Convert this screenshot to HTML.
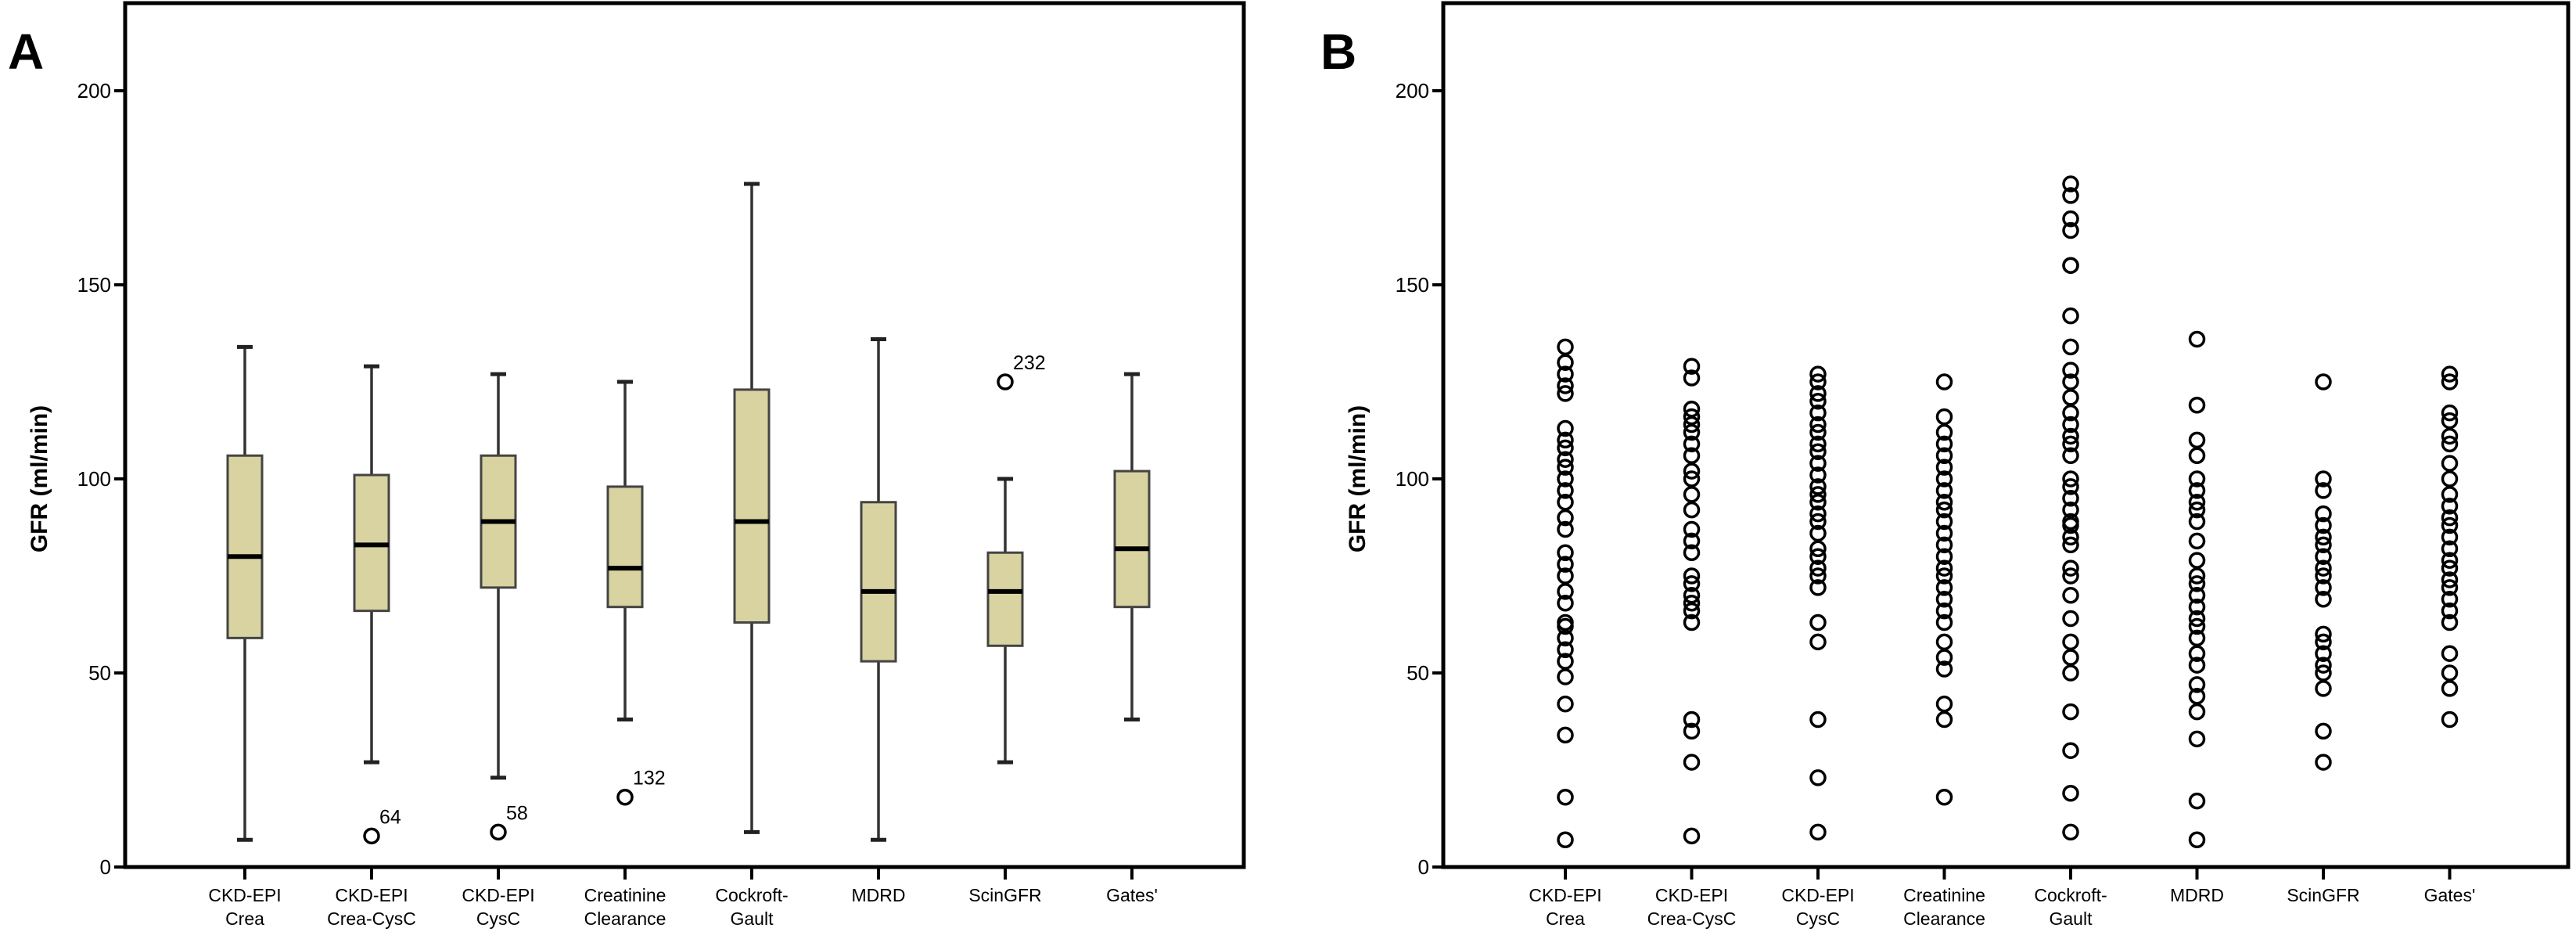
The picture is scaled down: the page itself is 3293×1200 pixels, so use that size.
<!DOCTYPE html>
<html><head><meta charset="utf-8"><style>
html,body{margin:0;padding:0;background:#fff;}
svg{display:block;font-family:"Liberation Sans",sans-serif;}
</style></head><body>
<svg id="fig" width="3293" height="1200" viewBox="0 0 3293 1200">
</svg>
<script>
const categories = [["CKD-EPI","Crea"],["CKD-EPI","Crea-CysC"],["CKD-EPI","CysC"],["Creatinine","Clearance"],["Cockroft-","Gault"],["MDRD",""],["ScinGFR",""],["Gates'",""]];
const yTicks = [0,50,100,150,200];
const whiskerHigh = [134,129,127,125,176,136,100,127];
const q3 = [106,101,106,98,123,94,81,102];
const medians = [80,83,89,77,89,71,71,82];
const q1 = [59,66,72,67,63,53,57,67];
const whiskerLow = [7,27,23,38,9,7,27,38];
const outlierCat = [1,2,3,6];
const outlierVal = [8,9,18,125];
const outlierLbl = ["64","58","132","232"];
const pts0 = [134,130,127,124,122,113,110,108,105,103,100,97,94,90,87,81,78,75,71,68,63,62,59,56,53,49,42,34,18,7];
const pts1 = [129,126,118,116,114,112,109,106,102,100,96,92,87,84,81,75,73,70,68,66,63,38,35,27,8];
const pts2 = [127,125,122,120,117,114,112,109,107,104,101,98,96,94,91,89,86,82,80,77,75,72,63,58,38,23,9];
const pts3 = [125,116,112,109,106,103,100,97,94,92,89,86,83,80,77,75,72,69,66,63,58,54,51,42,38,18];
const pts4 = [176,173,167,164,155,155,142,134,128,125,121,117,114,111,109,106,100,98,95,92,89,88,85,83,77,75,70,64,58,54,50,40,30,19,9];
const pts5 = [136,119,110,106,100,97,94,92,89,84,79,75,73,70,67,64,62,59,55,52,47,44,40,33,17,7];
const pts6 = [125,100,97,91,88,85,83,80,77,75,72,69,60,58,55,52,50,46,35,27];
const pts7 = [127,125,117,115,111,109,104,100,96,93,90,88,85,82,79,77,74,72,69,66,63,55,50,46,38];
const scatter = [pts0,pts1,pts2,pts3,pts4,pts5,pts6,pts7];

const NS="http://www.w3.org/2000/svg";
const svg=document.getElementById('fig');
function mk(tag,attrs,parent){const e=document.createElementNS(NS,tag);for(const k in attrs)e.setAttribute(k,attrs[k]);(parent||svg).appendChild(e);return e;}
const yScale=v=>1108-v*4.96;

function panel(left,right,x0,step,letter,lx){
  const g=mk('g',{});
  
  
  const fr=mk('rect',{x:left,y:4,width:right-left,height:1104,fill:'none',stroke:'#000','stroke-width':5},g);
  
  
  const L=mk('text',{x:lx,y:88,'font-size':64,'font-weight':'bold'},g);L.textContent=letter;
  
  
  const t=mk('text',{transform:`translate(${left-100},${yScale(100)}) rotate(-90)`,'text-anchor':'middle','font-size':30,'font-weight':'bold'},g);
  t.textContent='GFR (ml/min)';
  
  
  yTicks.forEach(v=>{
    const y=yScale(v);
    mk('line',{x1:left-14,x2:left,y1:y,y2:y,stroke:'#000','stroke-width':4},g);
    const tl=mk('text',{x:left-18,y:y+9,'text-anchor':'end','font-size':26},g);
    tl.textContent=v;
    
    
  });
  categories.forEach((c,i)=>{
    const x=x0+i*step;
    mk('line',{x1:x,x2:x,y1:1108,y2:1124,stroke:'#000','stroke-width':4},g);
    const tx=mk('text',{x:x,y:1152,'text-anchor':'middle','font-size':23},g);
    
    
    const a=mk('tspan',{x:x,dy:0},tx);a.textContent=c[0];
    if(c[1]){const b=mk('tspan',{x:x,dy:30},tx);b.textContent=c[1];}
  });
  return g;
}

// Panel A
const gA=panel(160,1590,313,162,'A',10);
categories.forEach((c,i)=>{
  const x=313+i*162, w=44;
  const g=mk('g',{},gA);
  
  
  mk('line',{x1:x,x2:x,y1:yScale(whiskerHigh[i]),y2:yScale(q3[i]),stroke:'#333','stroke-width':3.5},g);
  mk('line',{x1:x,x2:x,y1:yScale(q1[i]),y2:yScale(whiskerLow[i]),stroke:'#333','stroke-width':3.5},g);
  mk('line',{x1:x-10,x2:x+10,y1:yScale(whiskerHigh[i]),y2:yScale(whiskerHigh[i]),stroke:'#222','stroke-width':5},g);
  mk('line',{x1:x-10,x2:x+10,y1:yScale(whiskerLow[i]),y2:yScale(whiskerLow[i]),stroke:'#222','stroke-width':5},g);
  mk('rect',{x:x-w/2,y:yScale(q3[i]),width:w,height:yScale(q1[i])-yScale(q3[i]),fill:'#d8d3a0',stroke:'#444','stroke-width':3},g);
  mk('line',{x1:x-w/2,x2:x+w/2,y1:yScale(medians[i]),y2:yScale(medians[i]),stroke:'#000','stroke-width':6},g);
});
outlierCat.forEach((ci,k)=>{
  const x=313+ci*162, y=yScale(outlierVal[k]);
  const c=mk('circle',{cx:x,cy:y,r:9,fill:'none',stroke:'#000','stroke-width':3.5},gA);
  
  
  const t=mk('text',{x:x+10,y:y-16,'font-size':25},gA);t.textContent=outlierLbl[k];
  
  
});

// Panel B
const gB=panel(1845,3283,2001,161.5,'B',1688);
scatter.forEach((arr,i)=>{
  const x=2001+i*161.5;
  arr.forEach(v=>{
    const c=mk('circle',{cx:x,cy:yScale(v),r:9,fill:'none',stroke:'#000','stroke-width':3.5},gB);
    
    
  });
});
</script>
</body></html>
